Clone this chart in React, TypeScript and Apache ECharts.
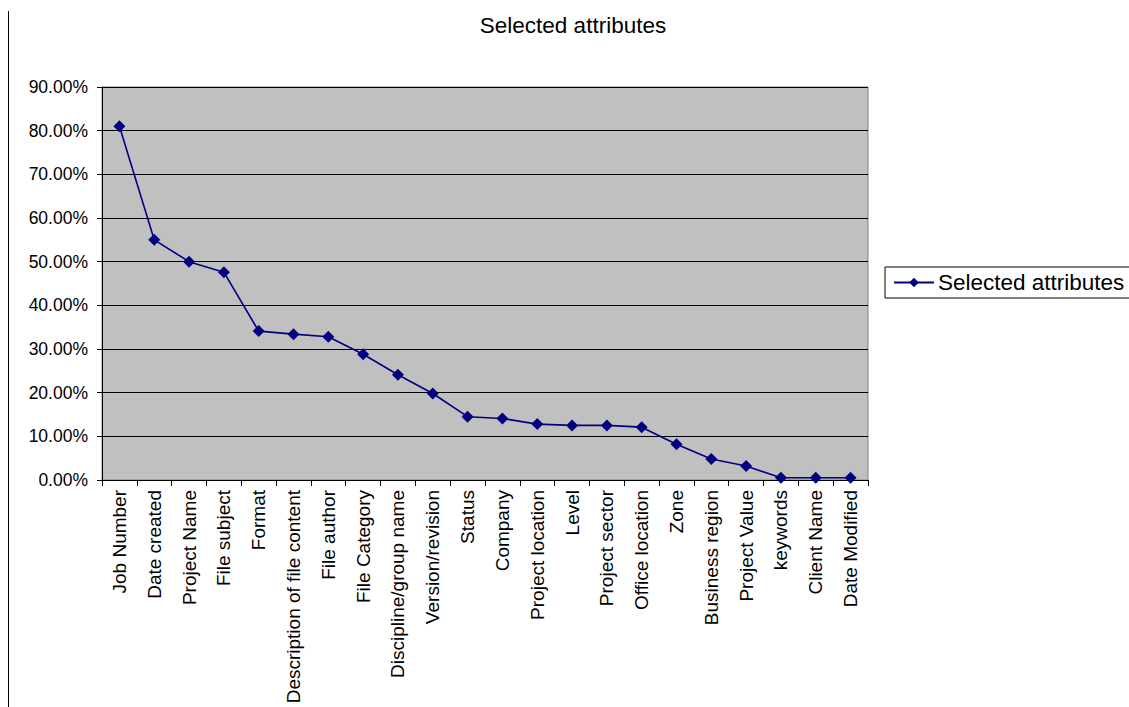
import React, { useEffect, useRef } from "react";
import * as echarts from "echarts";

const categories = [
  "Job Number",
  "Date created",
  "Project Name",
  "File subject",
  "Format",
  "Description of file content",
  "File author",
  "File Category",
  "Discipline/group name",
  "Version/revision",
  "Status",
  "Company",
  "Project location",
  "Level",
  "Project sector",
  "Office location",
  "Zone",
  "Business region",
  "Project Value",
  "keywords",
  "Client Name",
  "Date Modified",
];

// share of respondents selecting each attribute, in percent
const selectedShare = [
  81.0, 55.0, 50.0, 47.6, 34.1, 33.4, 32.8, 28.8, 24.1, 19.8, 14.5, 14.1,
  12.8, 12.5, 12.5, 12.1, 8.2, 4.8, 3.2, 0.5, 0.5, 0.5,
];

const yTicks = [0, 10, 20, 30, 40, 50, 60, 70, 80, 90];

const FONT = "'Liberation Sans', Arial, Helvetica, sans-serif";

export default function App() {
  const ref = useRef<HTMLDivElement>(null);

  useEffect(() => {
    document.body.style.margin = "0";
    if (!ref.current) return;
    const chart = echarts.init(ref.current, undefined, { renderer: "svg" });
    chart.setOption({
      animation: false,
      backgroundColor: "#ffffff",
      title: {
        text: "Selected attributes",
        left: 568,
        top: 9,
        textAlign: "center",
        textStyle: {
          fontFamily: FONT,
          fontSize: 22.5,
          fontWeight: "normal",
          color: "#000000",
        },
      },
      legend: {
        left: 885,
        top: 267,
        orient: "vertical",
        padding: [4, 6, 4, 8],
        borderColor: "#000000",
        borderWidth: 1,
        itemWidth: 40,
        itemHeight: 12,
        itemGap: 0,
        textStyle: { fontFamily: FONT, fontSize: 22.5, color: "#000000", padding: [0, 0, 0, -1] },
        data: ["Selected attributes"],
      },
      grid: {
        left: 102,
        top: 87,
        right: 261,
        bottom: 227,
        show: true,
        backgroundColor: "#c0c0c0",
        borderColor: "#808080",
        borderWidth: 1,
      },
      xAxis: {
        type: "category",
        data: categories,
        boundaryGap: true,
        axisLine: { lineStyle: { color: "#000000", width: 1 } },
        axisTick: { show: true, length: 6, alignWithLabel: false, lineStyle: { color: "#000000" } },
        axisLabel: {
          rotate: 90,
          interval: 0,
          margin: 10,
          fontFamily: FONT,
          fontSize: 19,
          color: "#000000",
        },
        splitLine: { show: false },
      },
      yAxis: {
        type: "value",
        min: yTicks[0],
        max: yTicks[yTicks.length - 1],
        interval: 10,
        axisLine: { show: true, lineStyle: { color: "#000000", width: 1 } },
        axisTick: { show: true, length: 5, lineStyle: { color: "#000000" } },
        axisLabel: {
          margin: 14,
          fontFamily: FONT,
          fontSize: 17.5,
          color: "#000000",
          formatter: (v: number) => v.toFixed(2) + "%",
        },
        splitLine: { show: true, lineStyle: { color: "#000000", width: 1 } },
      },
      series: [
        {
          name: "Selected attributes",
          type: "line",
          data: selectedShare,
          symbol: "diamond",
          symbolSize: 12,
          itemStyle: { color: "#000080" },
          lineStyle: { color: "#000080", width: 1.6 },
        },
      ],
      graphic: [
        {
          type: "line",
          shape: { x1: 8.5, y1: 11, x2: 8.5, y2: 707 },
          style: { stroke: "#000000", lineWidth: 1 },
        },
      ],
    });
    return () => chart.dispose();
  }, []);

  return <div ref={ref} style={{ width: 1129, height: 707 }} />;
}
